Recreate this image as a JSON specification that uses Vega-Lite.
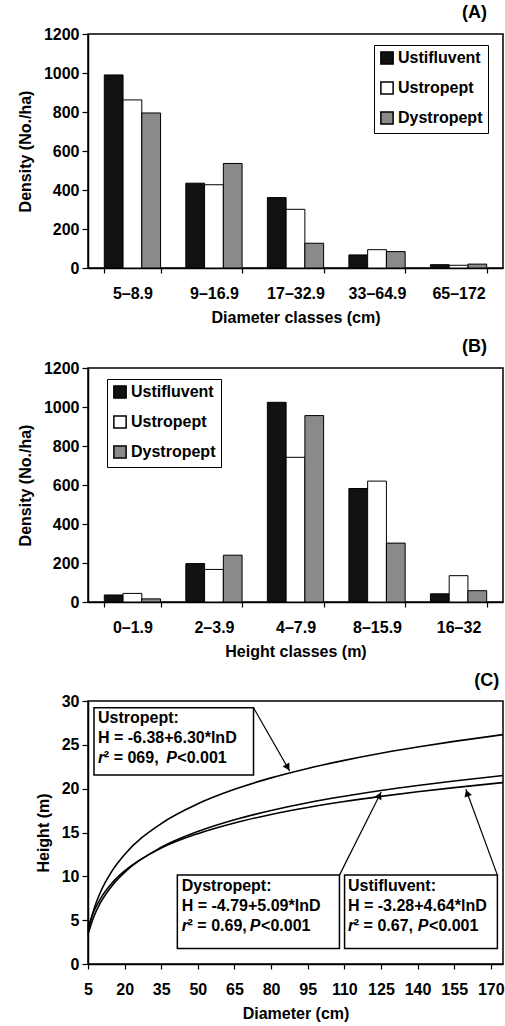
{
  "$schema": "https://vega.github.io/schema/vega-lite/v6.json",
  "padding": {"left": 16, "top": 3, "right": 0, "bottom": 2},
  "config": {
    "font": "Liberation Sans",
    "view": {"stroke": "black", "strokeWidth": 1.5},
    "axis": {
      "labelFont": "Liberation Sans", "labelFontSize": 16, "labelFontWeight": "bold", "labelColor": "black",
      "titleFont": "Liberation Sans", "titleFontSize": 16, "titleFontWeight": "bold", "titleColor": "black",
      "domainColor": "black", "domainWidth": 1.5, "tickColor": "black", "tickWidth": 1.2, "grid": false,
      "labelOverlap": false
    },
    "legend": {
      "symbolType": "square", "symbolSize": 150, "symbolStrokeColor": "black", "symbolStrokeWidth": 1.5,
      "labelFont": "Liberation Sans", "labelFontSize": 16, "labelFontWeight": "bold", "labelColor": "black",
      "fillColor": "white", "strokeColor": "black", "padding": 5, "rowPadding": 10, "labelOffset": 3, "labelLimit": 300
    },
    "title": {"font": "Liberation Sans", "fontSize": 18, "fontWeight": "bold", "color": "black", "anchor": "end"}
  },
  "datasets": {
    "diam": [
      {"cls": "5–8.9", "soil": "Ustifluvent", "density": 990},
      {"cls": "5–8.9", "soil": "Ustropept", "density": 862},
      {"cls": "5–8.9", "soil": "Dystropept", "density": 795},
      {"cls": "9–16.9", "soil": "Ustifluvent", "density": 435},
      {"cls": "9–16.9", "soil": "Ustropept", "density": 427},
      {"cls": "9–16.9", "soil": "Dystropept", "density": 536},
      {"cls": "17–32.9", "soil": "Ustifluvent", "density": 361},
      {"cls": "17–32.9", "soil": "Ustropept", "density": 301},
      {"cls": "17–32.9", "soil": "Dystropept", "density": 127},
      {"cls": "33–64.9", "soil": "Ustifluvent", "density": 67},
      {"cls": "33–64.9", "soil": "Ustropept", "density": 94},
      {"cls": "33–64.9", "soil": "Dystropept", "density": 84},
      {"cls": "65–172", "soil": "Ustifluvent", "density": 17},
      {"cls": "65–172", "soil": "Ustropept", "density": 14},
      {"cls": "65–172", "soil": "Dystropept", "density": 20}
    ],
    "height": [
      {"cls": "0–1.9", "soil": "Ustifluvent", "density": 36},
      {"cls": "0–1.9", "soil": "Ustropept", "density": 44},
      {"cls": "0–1.9", "soil": "Dystropept", "density": 16},
      {"cls": "2–3.9", "soil": "Ustifluvent", "density": 197},
      {"cls": "2–3.9", "soil": "Ustropept", "density": 167},
      {"cls": "2–3.9", "soil": "Dystropept", "density": 240},
      {"cls": "4–7.9", "soil": "Ustifluvent", "density": 1024},
      {"cls": "4–7.9", "soil": "Ustropept", "density": 742},
      {"cls": "4–7.9", "soil": "Dystropept", "density": 956},
      {"cls": "8–15.9", "soil": "Ustifluvent", "density": 582},
      {"cls": "8–15.9", "soil": "Ustropept", "density": 620},
      {"cls": "8–15.9", "soil": "Dystropept", "density": 302},
      {"cls": "16–32", "soil": "Ustifluvent", "density": 42},
      {"cls": "16–32", "soil": "Ustropept", "density": 135},
      {"cls": "16–32", "soil": "Dystropept", "density": 58}
    ],
    "curves": [
      {"soil": "Ustropept", "D": 5, "H": 3.76},
      {"soil": "Ustropept", "D": 7.5, "H": 6.31},
      {"soil": "Ustropept", "D": 10, "H": 8.13},
      {"soil": "Ustropept", "D": 15, "H": 10.68},
      {"soil": "Ustropept", "D": 20, "H": 12.49},
      {"soil": "Ustropept", "D": 35, "H": 16.02},
      {"soil": "Ustropept", "D": 50, "H": 18.27},
      {"soil": "Ustropept", "D": 65, "H": 19.92},
      {"soil": "Ustropept", "D": 80, "H": 21.23},
      {"soil": "Ustropept", "D": 95, "H": 22.31},
      {"soil": "Ustropept", "D": 110, "H": 23.23},
      {"soil": "Ustropept", "D": 125, "H": 24.04},
      {"soil": "Ustropept", "D": 140, "H": 24.75},
      {"soil": "Ustropept", "D": 155, "H": 25.39},
      {"soil": "Ustropept", "D": 175, "H": 26.16},
      {"soil": "Dystropept", "D": 5, "H": 3.40},
      {"soil": "Dystropept", "D": 7.5, "H": 5.47},
      {"soil": "Dystropept", "D": 10, "H": 6.93},
      {"soil": "Dystropept", "D": 15, "H": 8.99},
      {"soil": "Dystropept", "D": 20, "H": 10.46},
      {"soil": "Dystropept", "D": 35, "H": 13.31},
      {"soil": "Dystropept", "D": 50, "H": 15.12},
      {"soil": "Dystropept", "D": 65, "H": 16.46},
      {"soil": "Dystropept", "D": 80, "H": 17.51},
      {"soil": "Dystropept", "D": 95, "H": 18.39},
      {"soil": "Dystropept", "D": 110, "H": 19.13},
      {"soil": "Dystropept", "D": 125, "H": 19.79},
      {"soil": "Dystropept", "D": 140, "H": 20.36},
      {"soil": "Dystropept", "D": 155, "H": 20.88},
      {"soil": "Dystropept", "D": 175, "H": 21.50},
      {"soil": "Ustifluvent", "D": 5, "H": 4.19},
      {"soil": "Ustifluvent", "D": 7.5, "H": 6.07},
      {"soil": "Ustifluvent", "D": 10, "H": 7.40},
      {"soil": "Ustifluvent", "D": 15, "H": 9.29},
      {"soil": "Ustifluvent", "D": 20, "H": 10.62},
      {"soil": "Ustifluvent", "D": 35, "H": 13.22},
      {"soil": "Ustifluvent", "D": 50, "H": 14.87},
      {"soil": "Ustifluvent", "D": 65, "H": 16.09},
      {"soil": "Ustifluvent", "D": 80, "H": 17.05},
      {"soil": "Ustifluvent", "D": 95, "H": 17.85},
      {"soil": "Ustifluvent", "D": 110, "H": 18.53},
      {"soil": "Ustifluvent", "D": 125, "H": 19.12},
      {"soil": "Ustifluvent", "D": 140, "H": 19.65},
      {"soil": "Ustifluvent", "D": 155, "H": 20.12},
      {"soil": "Ustifluvent", "D": 175, "H": 20.69}
    ],
    "boxes": [
      {"soil": "Ustropept", "D1": 7.45, "D2": 72.8, "H1": 29.23, "H2": 21.57},
      {"soil": "Dystropept", "D1": 41.6, "D2": 108.0, "H1": 10.14, "H2": 1.78},
      {"soil": "Ustifluvent", "D1": 110.1, "D2": 172.7, "H1": 10.14, "H2": 1.78}
    ],
    "arrows": [
      {"soil": "Ustropept", "D1": 72.8, "H1": 29.23, "D2": 87.6, "H2": 22.02, "Dt": 86.8, "Ht": 22.42, "dir": 150},
      {"soil": "Dystropept", "D1": 108.0, "H1": 10.14, "D2": 125.1, "H2": 19.63, "Dt": 124.4, "Ht": 19.22, "dir": 26},
      {"soil": "Ustifluvent", "D1": 172.7, "H1": 10.14, "D2": 159.8, "H2": 19.93, "Dt": 160.3, "Ht": 19.5, "dir": 341}
    ],
    "notes": [
      {"text": "Ustropept:", "D": 9.08, "H": 27.52},
      {"text": "H = -6.38+6.30*lnD", "D": 9.08, "H": 25.25},
      {"text": "² = 069, ", "D": 11.5, "H": 22.97},
      {"text": "<0.001", "D": 41.6, "H": 22.97},
      {"text": "Dystropept:", "D": 43.4, "H": 8.35},
      {"text": "H = -4.79+5.09*lnD", "D": 43.4, "H": 6.07},
      {"text": "² = 0.69, ", "D": 45.8, "H": 3.80},
      {"text": "<0.001", "D": 75.9, "H": 3.80},
      {"text": "Ustifluvent:", "D": 111.5, "H": 8.35},
      {"text": "H = -3.28+4.64*lnD", "D": 111.5, "H": 6.07},
      {"text": "² = 0.67, ", "D": 113.9, "H": 3.80},
      {"text": "<0.001", "D": 144.7, "H": 3.80}
    ],
    "notesItalic": [
      {"text": "r", "D": 9.08, "H": 22.97},
      {"text": "P", "D": 37.1, "H": 22.97},
      {"text": "r", "D": 43.4, "H": 3.80},
      {"text": "P", "D": 71.3, "H": 3.80},
      {"text": "r", "D": 111.5, "H": 3.80},
      {"text": "P", "D": 140.1, "H": 3.80}
    ]
  },
  "spacing": 11,
  "resolve": {"legend": {"color": "independent"}},
  "vconcat": [
    {
      "title": {"text": "(A)", "dx": -16, "offset": 4},
      "width": 415,
      "height": 234,
      "data": {"name": "diam"},
      "mark": {"type": "bar", "stroke": "black", "strokeWidth": 1},
      "encoding": {
        "x": {"field": "cls", "type": "nominal", "sort": ["5–8.9", "9–16.9", "17–32.9", "33–64.9", "65–172"],
          "scale": {"paddingInner": 0.31},
          "axis": {"title": "Diameter classes (cm)", "labelAngle": 0, "tickBand": "extent", "tickSize": 5, "labelPadding": 12, "titlePadding": 8}},
        "xOffset": {"field": "soil", "sort": ["Ustifluvent", "Ustropept", "Dystropept"]},
        "y": {"field": "density", "type": "quantitative", "scale": {"domain": [0, 1200]},
          "axis": {"title": "Density (No./ha)", "format": "d", "values": [0, 200, 400, 600, 800, 1000, 1200], "tickSize": 6, "labelPadding": 3, "titlePadding": 10}},
        "color": {"field": "soil", "type": "nominal", "sort": ["Ustifluvent", "Ustropept", "Dystropept"],
          "scale": {"domain": ["Ustifluvent", "Ustropept", "Dystropept"], "range": ["#111111", "#ffffff", "#8a8a8a"]},
          "legend": {"title": null, "orient": "none", "legendX": 286, "legendY": 11}}
      }
    },
    {
      "title": {"text": "(B)", "dx": -16, "offset": 4},
      "width": 415,
      "height": 234,
      "data": {"name": "height"},
      "mark": {"type": "bar", "stroke": "black", "strokeWidth": 1},
      "encoding": {
        "x": {"field": "cls", "type": "nominal", "sort": ["0–1.9", "2–3.9", "4–7.9", "8–15.9", "16–32"],
          "scale": {"paddingInner": 0.31},
          "axis": {"title": "Height classes (m)", "labelAngle": 0, "tickBand": "extent", "tickSize": 5, "labelPadding": 12, "titlePadding": 8}},
        "xOffset": {"field": "soil", "sort": ["Ustifluvent", "Ustropept", "Dystropept"]},
        "y": {"field": "density", "type": "quantitative", "scale": {"domain": [0, 1200]},
          "axis": {"title": "Density (No./ha)", "format": "d", "values": [0, 200, 400, 600, 800, 1000, 1200], "tickSize": 6, "labelPadding": 3, "titlePadding": 10}},
        "color": {"field": "soil", "type": "nominal", "sort": ["Ustifluvent", "Ustropept", "Dystropept"],
          "scale": {"domain": ["Ustifluvent", "Ustropept", "Dystropept"], "range": ["#111111", "#ffffff", "#8a8a8a"]},
          "legend": {"title": null, "orient": "none", "legendX": 19, "legendY": 11}}
      }
    },
    {
      "title": {"text": "(C)", "dx": -7, "offset": 3},
      "width": 415,
      "height": 263,
      "encoding": {
        "x": {"type": "quantitative", "scale": {"domain": [5, 175], "nice": false, "zero": false},
          "axis": {"title": "Diameter (cm)", "values": [5, 20, 35, 50, 65, 80, 95, 110, 125, 140, 155, 170], "labelOverlap": false, "labelFlush": false, "labelBound": false, "tickSize": 5, "labelPadding": 12, "titlePadding": 8}},
        "y": {"type": "quantitative", "scale": {"domain": [0, 30]},
          "axis": {"title": "Height (m)", "values": [0, 5, 10, 15, 20, 25, 30], "labelOverlap": false, "labelFlush": false, "tickSize": 6, "labelPadding": 3, "titlePadding": 10}}
      },
      "layer": [
        {
          "data": {"name": "curves"},
          "mark": {"type": "line", "color": "black", "strokeWidth": 1.6, "interpolate": "monotone"},
          "encoding": {
            "x": {"field": "D"},
            "y": {"field": "H"},
            "detail": {"field": "soil"}
          }
        },
        {
          "data": {"name": "arrows"},
          "mark": {"type": "rule", "color": "black", "strokeWidth": 1.2},
          "encoding": {
            "x": {"field": "D1"},
            "y": {"field": "H1"},
            "x2": {"field": "D2"},
            "y2": {"field": "H2"}
          }
        },
        {
          "data": {"name": "arrows"},
          "mark": {"type": "point", "shape": "triangle-up", "filled": true, "color": "black", "opacity": 1, "size": 60},
          "encoding": {
            "x": {"field": "Dt"},
            "y": {"field": "Ht"},
            "angle": {"field": "dir", "type": "quantitative", "scale": null}
          }
        },
        {
          "data": {"name": "boxes"},
          "mark": {"type": "rect", "fill": "white", "stroke": "black", "strokeWidth": 1.5},
          "encoding": {
            "x": {"field": "D1"},
            "x2": {"field": "D2"},
            "y": {"field": "H1"},
            "y2": {"field": "H2"}
          }
        },
        {
          "data": {"name": "notes"},
          "mark": {"type": "text", "align": "left", "baseline": "alphabetic", "fontSize": 16, "fontWeight": "bold", "color": "black"},
          "encoding": {
            "x": {"field": "D"},
            "y": {"field": "H"},
            "text": {"field": "text"}
          }
        },
        {
          "data": {"name": "notesItalic"},
          "mark": {"type": "text", "align": "left", "baseline": "alphabetic", "fontSize": 16, "fontWeight": "bold", "fontStyle": "italic", "color": "black"},
          "encoding": {
            "x": {"field": "D"},
            "y": {"field": "H"},
            "text": {"field": "text"}
          }
        }
      ]
    }
  ]
}
